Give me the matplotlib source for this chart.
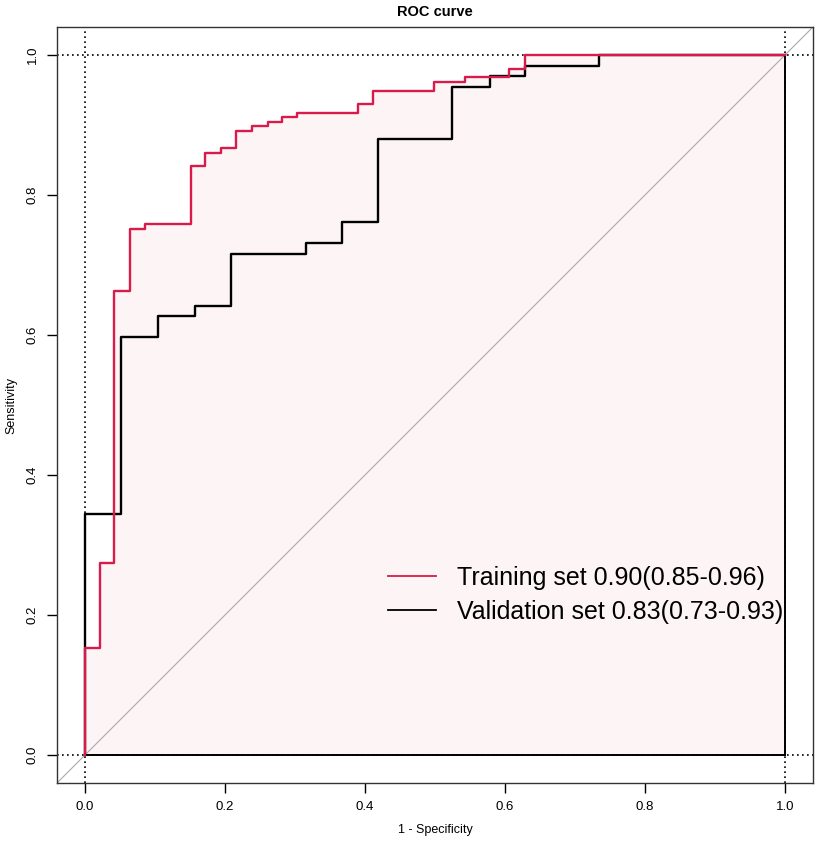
import matplotlib
matplotlib.use("Agg")
import matplotlib.pyplot as plt
import numpy as np

plt.rcParams["font.family"] = ["Liberation Sans", "DejaVu Sans"]

# ROC vertices (1 - specificity, sensitivity)
train_fpr = [0, 0, 0.021, 0.021, 0.042, 0.042, 0.064, 0.064, 0.086, 0.086,
             0.151, 0.151, 0.172, 0.172, 0.194, 0.194, 0.216, 0.216, 0.238, 0.238,
             0.261, 0.261, 0.282, 0.282, 0.303, 0.303, 0.390, 0.390, 0.412, 0.412,
             0.499, 0.499, 0.543, 0.543, 0.606, 0.606, 0.629, 0.629, 1.0]
train_tpr = [0, 0.153, 0.153, 0.274, 0.274, 0.663, 0.663, 0.751, 0.751, 0.759,
             0.759, 0.841, 0.841, 0.860, 0.860, 0.867, 0.867, 0.892, 0.892, 0.898,
             0.898, 0.905, 0.905, 0.911, 0.911, 0.917, 0.917, 0.930, 0.930, 0.949,
             0.949, 0.962, 0.962, 0.969, 0.969, 0.980, 0.980, 1.0, 1.0]

valid_fpr = [0, 0, 0.051, 0.051, 0.104, 0.104, 0.157, 0.157, 0.208, 0.208,
             0.315, 0.315, 0.367, 0.367, 0.419, 0.419, 0.525, 0.525, 0.578, 0.578,
             0.629, 0.629, 0.735, 0.735, 1.0]
valid_tpr = [0, 0.344, 0.344, 0.597, 0.597, 0.627, 0.627, 0.642, 0.642, 0.716,
             0.716, 0.731, 0.731, 0.762, 0.762, 0.880, 0.880, 0.954, 0.954, 0.970,
             0.970, 0.985, 0.985, 1.0, 1.0]

labels = ["Training set 0.90(0.85-0.96)", "Validation set 0.83(0.73-0.93)"]
colors = ["#D81B4A", "black"]
ticks = [0.0, 0.2, 0.4, 0.6, 0.8, 1.0]

W, H = 819, 848
fig = plt.figure(figsize=(W / 100, H / 100), dpi=100)
ax = fig.add_axes([57 / W, (H - 783) / H, 756 / W, 756 / H])
ax.set_xlim(-0.04, 1.04)
ax.set_ylim(-0.04, 1.04)

# shaded area under the training curve
ax.fill(list(train_fpr) + [1.0, 0.0], list(train_tpr) + [0.0, 0.0],
        color="#FDF4F5", lw=0, zorder=0)

# reference lines
for v in [0, 1]:
    ax.axvline(v, color="black", ls=(0, (1, 2)), lw=1.2, zorder=1)
    ax.axhline(v, color="black", ls=(0, (1, 2)), lw=1.2, zorder=1)
ax.axline((0, 0), (1, 1), color="#AAAAAA", lw=0.8, zorder=1)
ax.plot([0, 1], [0, 0], color="black", lw=1.4, zorder=2)
ax.plot([1, 1], [0, 1], color="black", lw=1.4, zorder=2)

ax.plot(valid_fpr, valid_tpr, color=colors[1], lw=1.7, zorder=3)
ax.plot(train_fpr, train_tpr, color=colors[0], lw=1.7, zorder=4)

handles = [plt.Line2D([], [], color=c, lw=1.3) for c in colors]
ax.legend(handles, labels, loc="center left", bbox_to_anchor=(0.438, 0.249),
          frameon=False, fontsize=18, handlelength=1.9, handletextpad=0.85,
          labelspacing=0.38, borderpad=0, borderaxespad=0)

ax.set_xticks(ticks)
ax.set_yticks(ticks)
ax.set_xticklabels([f"{t:.1f}" for t in ticks])
ax.set_yticklabels([f"{t:.1f}" for t in ticks], rotation=90, va="center")
ax.tick_params(direction="out", length=7, width=1, labelsize=9.5, pad=6)
for s in ax.spines.values():
    s.set_linewidth(1)
    s.set_color("#333333")

ax.set_xlabel("1 - Specificity", fontsize=9, labelpad=8)
ax.set_ylabel("Sensitivity", fontsize=9, labelpad=7)
ax.set_title("ROC curve", fontsize=10.5, fontweight="bold", pad=8)

fig.savefig("out.png", dpi=100)
